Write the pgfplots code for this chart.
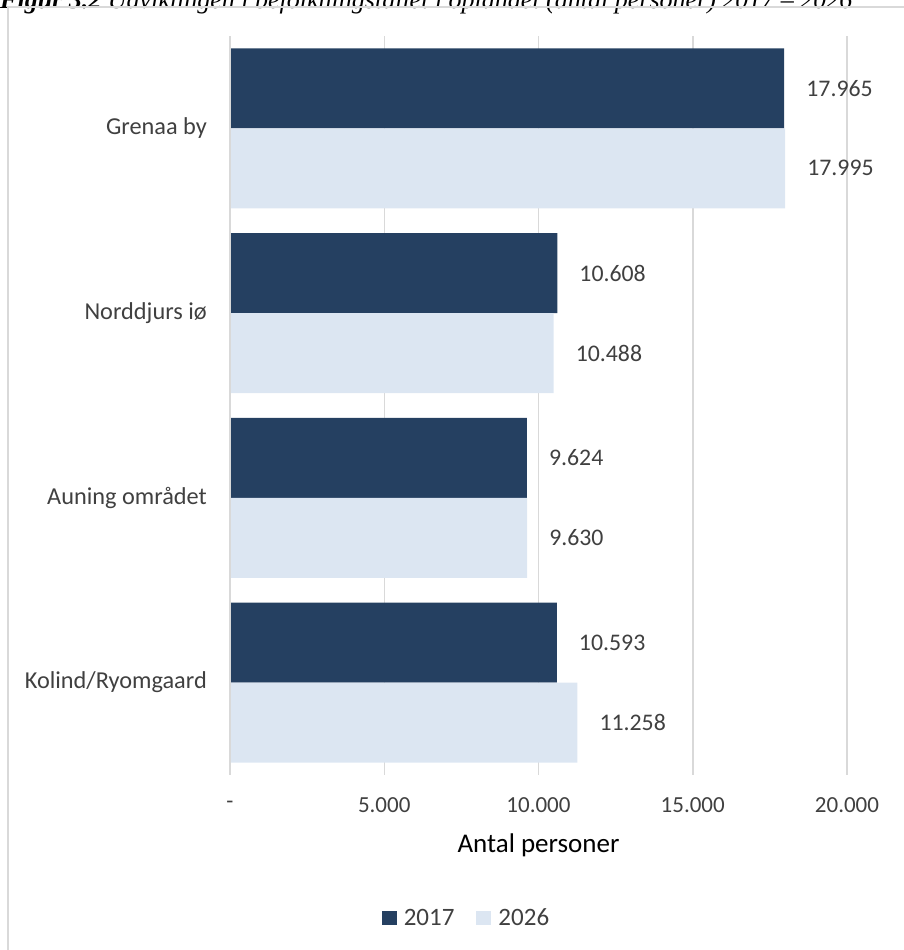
\documentclass[border=0pt]{standalone}
\usepackage{pgfplots}
\pgfplotsset{compat=1.18}
\usepackage{fontspec}
\setmainfont{Carlito}
\newfontfamily\serifttl[Ligatures=TeX]{Liberation Serif}
\definecolor{navy}{HTML}{254061}
\definecolor{pale}{HTML}{DCE6F2}
\definecolor{gridgray}{HTML}{D9D9D9}
\definecolor{txtgray}{HTML}{404040}
\begin{document}
\begin{tikzpicture}
% page frame, 904 x 950
\useasboundingbox (0,0) rectangle (904pt,950pt);
\clip (0,0) rectangle (904pt,950pt);
% figure caption (top cut by the page)
\node[anchor=base west, inner sep=0pt] at (0pt,941pt)
  {\serifttl\fontsize{26}{30}\selectfont\bfseries\itshape Figur 3.2 \mdseries Udviklingen i befolkningstallet i oplandet (antal personer) 2017 – 2026};
% chart frame
\draw[gridgray, line width=1.5pt] (8pt,-20pt) -- (8pt,943pt) -- (930pt,943pt);
\begin{axis}[
  at={(230pt,175pt)}, anchor=south west,
  scale only axis, width=617pt, height=739pt,
  xbar, bar width=0.433,
  xmin=0, xmax=20000, ymin=-0.5, ymax=3.5,
  scaled x ticks=false,
  xtick={0,5000,10000,15000,20000},
  xticklabels={-,5.000,10.000,15.000,20.000},
  ytick={0,1,2,3},
  yticklabels={Kolind/Ryomgaard,Auning området,Norddjurs iø,Grenaa by},
  axis line style={draw=none},
  major tick length=0pt,
  xmajorgrids, grid style={draw=gridgray, line width=1.5pt},
  tick label style={font=\fontsize{23}{27}\selectfont, text=txtgray},
  yticklabel style={anchor=east, inner sep=0pt, xshift=-23pt, font=\fontsize{24.3}{28}\selectfont},
  xticklabel style={anchor=center, inner sep=0pt, yshift=-30pt},
  xlabel={Antal personer},
  xlabel style={at={(axis description cs:0.5,-0.0947)}, anchor=center, inner sep=0pt, font=\fontsize{27}{31}\selectfont, text=black},
  nodes near coords={\pgfmathprintnumber{\pgfplotspointmeta}},
  point meta=x,
  /pgf/number format/.cd, 1000 sep={.}, assume math mode=true, /pgfplots/.cd,
  every node near coord/.append style={anchor=west, inner sep=0pt, xshift=22pt, font=\fontsize{23.8}{28}\selectfont, text=txtgray},
  legend columns=2,
  legend style={at={(0.3833,-0.1935)}, anchor=center, draw=none, fill=none,
    font=\fontsize{25}{29}\selectfont, text=txtgray,
    /tikz/every odd column/.append style={column sep=5pt},
    /tikz/every even column/.append style={column sep=20pt}},
  legend image code/.code={\fill[#1] (0pt,-7pt) rectangle (15pt,7pt);},
]
\addplot[draw=none, fill=navy, bar shift=0.2165] coordinates {
  (17965,3) (10608,2) (9624,1) (10593,0)};
\addlegendentry{2017}
\addplot[draw=none, fill=pale, bar shift=-0.2165] coordinates {
  (17995,3) (10488,2) (9630,1) (11258,0)};
\addlegendentry{2026}
\draw[gridgray, line width=1.5pt] (axis cs:0,-0.5) -- (axis cs:0,3.5);
\end{axis}
\end{tikzpicture}
\end{document}
